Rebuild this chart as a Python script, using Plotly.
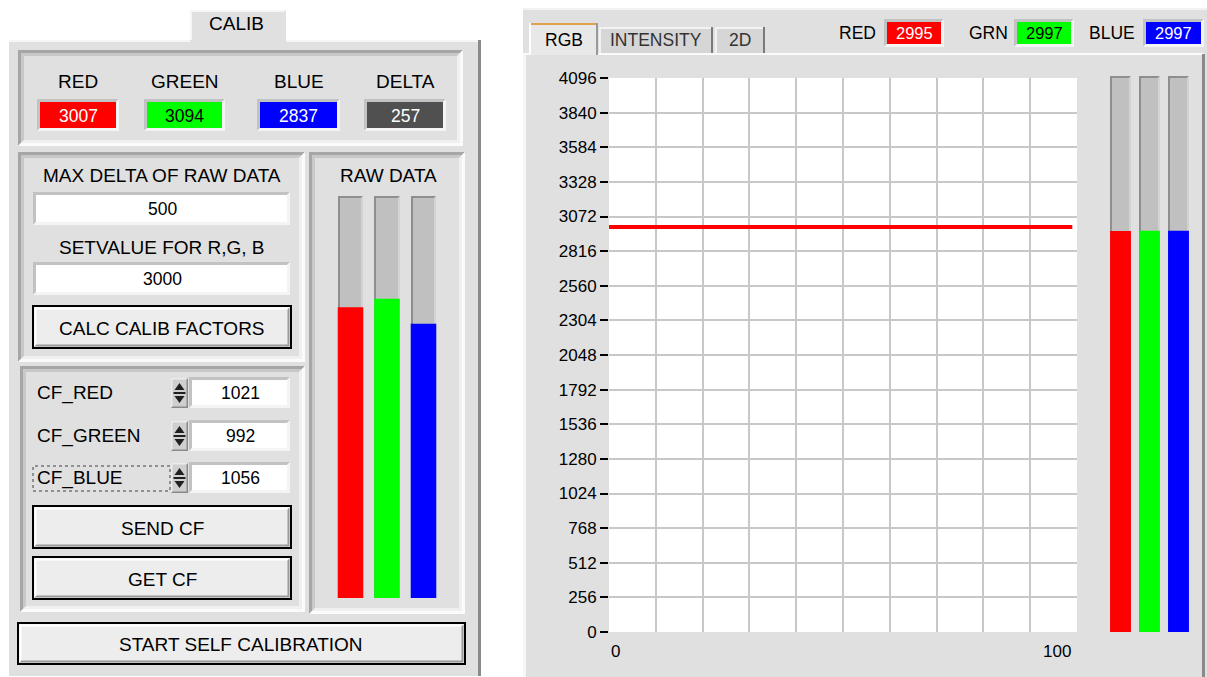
import plotly.graph_objects as go

# ---------------- data ----------------
calib_labels = ["RED", "GREEN", "BLUE", "DELTA"]
calib_values = [3007, 3094, 2837, 257]
max_delta_raw = 500
setvalue_rgb = 3000
cf_labels = ["CF_RED", "CF_GREEN", "CF_BLUE"]
cf_values = [1021, 992, 1056]
raw_channels = ["R", "G", "B"]
raw_values = [3007, 3094, 2837]
live_labels = ["RED", "GRN", "BLUE"]
live_values = [2995, 2997, 2997]
history_x = [0, 99]
history_red = [2995, 2995]
y_ticks = [0, 256, 512, 768, 1024, 1280, 1536, 1792, 2048, 2304, 2560, 2816,
           3072, 3328, 3584, 3840, 4096]
x_range = [0, 100]
x_tick_labels = ["0", "100"]
right_tabs = ["RGB", "INTENSITY", "2D"]
button_labels = ["CALC CALIB FACTORS", "SEND CF", "GET CF", "START SELF CALIBRATION"]
bar_colors = ["#ff0000", "#00ff00", "#0000ff"]

# ---------------- helpers ----------------
W, H = 1207, 677
FONT = "Liberation Sans, Arial, sans-serif"
FACE = "#e0e0e0"
LBL = 19
VAL = 17.5
shapes, annots = [], []


def px(x):
    return x / W


def py(y):
    return 1 - y / H


def rect(x0, y0, x1, y1, fill=None, line=None, lw=0, dash=None):
    ln = dict(color=line or "rgba(0,0,0,0)", width=lw)
    if dash:
        ln["dash"] = dash
    shapes.append(dict(type="rect", xref="paper", yref="paper", x0=px(x0), x1=px(x1),
                       y0=py(y1), y1=py(y0), fillcolor=fill or "rgba(0,0,0,0)",
                       line=ln, layer="below"))


def poly(pts, fill):
    p = "M " + " L ".join(f"{px(x):.5f},{py(y):.5f}" for x, y in pts) + " Z"
    shapes.append(dict(type="path", xref="paper", yref="paper", path=p,
                       fillcolor=fill, line=dict(width=0), layer="below"))


def bevel(x0, y0, x1, y1, tl, br, w):
    poly([(x0, y0), (x1, y0), (x1 - w, y0 + w), (x0 + w, y0 + w), (x0 + w, y1 - w), (x0, y1)], tl)
    poly([(x1, y1), (x0, y1), (x0 + w, y1 - w), (x1 - w, y1 - w), (x1 - w, y0 + w), (x1, y0)], br)


def text(x, y, s, size=LBL, color="#000000", xanchor="center"):
    annots.append(dict(xref="paper", yref="paper", x=px(x), y=py(y), text=s, showarrow=False,
                       xanchor=xanchor, yanchor="middle",
                       font=dict(family=FONT, size=size, color=color)))


def sunken_panel(x0, y0, x1, y1):
    rect(x0, y0, x1, y1, FACE)
    bevel(x0, y0, x1, y1, "#a6a6a6", "#fbfbfb", 3)
    bevel(x0 + 3, y0 + 3, x1 - 3, y1 - 3, "#c8c8c8", "#f0f0f0", 3)


def field(x0, y0, x1, y1, fill):
    bevel(x0, y0, x1, y1, "#c2c2c2", "#f4f4f4", 3)
    rect(x0 + 3, y0 + 3, x1 - 3, y1 - 3, fill)


def button(x0, y0, x1, y1, label, size=LBL):
    rect(x0, y0, x1, y1, "#ededed", "#000000", 2)
    bevel(x0 + 1.5, y0 + 1.5, x1 - 1.5, y1 - 1.5, "#ffffff", "#9a9a9a", 2)
    text((x0 + x1) / 2, (y0 + y1) / 2 + 1, label, size)


def spinner(x0, y0, x1, y1):
    rect(x0, y0, x1, y1, "#cfcfcf")
    bevel(x0, y0, x1, y1, "#ececec", "#8a8a8a", 1.5)
    cx = (x0 + x1) / 2
    ym = (y0 + y1) / 2
    poly([(cx - 5, ym - 3), (cx + 5, ym - 3), (cx, ym - 10)], "#202020")
    poly([(cx - 5, ym + 3), (cx + 5, ym + 3), (cx, ym + 10)], "#202020")
    rect(cx - 6, ym - 1, cx + 6, ym + 1, "#202020")


def bar_frame(x0, y0, x1, y1):
    rect(x0, y0, x1, y1, "#c0c0c0")
    bevel(x0, y0, x1, y1, "#8e8e8e", "#d2d2d2", 2)


# ---------------- left panel ----------------
rect(190, 10, 286, 42, FACE)
poly([(190, 10), (286, 10), (284, 12), (192, 12), (192, 42), (190, 42)], "#f6f6f6")
text(236, 23, "CALIB")
rect(9, 40, 481, 676, FACE)
rect(9, 40, 190, 42, "#f6f6f6")
rect(286, 40, 481, 42, "#f6f6f6")
rect(478, 40, 481, 676, "#8a8a8a")

# sub panel 1: current values
sunken_panel(18, 50, 463, 146)
value_boxes = [(40, 116), (147, 222), (260, 337), (367, 443)]
box_fills = ["#ff0000", "#00ff00", "#0000ff", "#505050"]
box_text = ["#ffffff", "#000000", "#ffffff", "#ffffff"]
for (bx0, bx1), lab, val, f, tc in zip(value_boxes, calib_labels, calib_values, box_fills, box_text):
    field(bx0 - 3, 99, bx1 + 3, 131, f)
    text((bx0 + bx1) / 2, 81, lab)
    text((bx0 + bx1) / 2, 116, str(val), VAL, tc)

# sub panel 2: settings
sunken_panel(18, 152, 305, 362)
text(162, 176, "MAX DELTA OF RAW DATA")
field(33, 192, 290, 225, "#ffffff")
text(162, 209, str(max_delta_raw), VAL)
text(162, 247, "SETVALUE FOR R,G, B")
field(33, 262, 290, 295, "#ffffff")
text(162, 279, str(setvalue_rgb), VAL)
button(33, 306, 291, 348, button_labels[0])

# sub panel 3: calibration factors
sunken_panel(20, 366, 305, 612)
cf_rows = [393, 436, 478]
for yy, lab, val in zip(cf_rows, cf_labels, cf_values):
    text(35, yy, lab, xanchor="left")
    spinner(171, yy - 15, 188, yy + 15)
    field(189, yy - 16, 290, yy + 15, "#ffffff")
    text(240, yy, str(val), VAL)
rect(33, 466, 170, 491, None, "#404040", 1, "dot")
button(33, 506, 291, 548, button_labels[1])
button(33, 557, 291, 599, button_labels[2])

# raw data panel
sunken_panel(309, 152, 465, 614)
text(389, 176, "RAW DATA")
raw_frames = [(338, 363), (374, 400), (411, 436)]
for fx0, fx1 in raw_frames:
    bar_frame(fx0, 196, fx1, 598)

button(18, 623, 465, 664, button_labels[3])

# ---------------- right panel ----------------
rect(523, 8, 1207, 677, FACE)
rect(523, 8, 1207, 10, "#f2f2f2")
rect(523, 54, 1204, 677, FACE)
rect(523, 53, 1204, 55, "#fafafa")
rect(523, 54, 526, 677, "#f6f6f6")
rect(1202, 54, 1205, 677, "#8a8a8a")

# tabs
tab_pos = [(529, 598, 23), (599, 713, 27), (715, 765, 27)]
for i, ((tx0, tx1, ty0), lab) in enumerate(zip(tab_pos, right_tabs)):
    if i == 0:
        rect(tx0, ty0, tx1, 55, "#e8e8e8")
        rect(tx0, ty0, tx1, ty0 + 2, "#e0a050")
        rect(tx0, ty0, tx0 + 2, 55, "#ffffff")
        rect(tx1 - 2, ty0, tx1, 55, "#9a9a9a")
    else:
        rect(tx0, ty0, tx1, 53, "#d6d6d6")
        rect(tx0, ty0, tx1, ty0 + 2, "#f2f2f2")
        rect(tx0, ty0, tx0 + 2, 53, "#f2f2f2")
        rect(tx1 - 2, ty0, tx1, 53, "#7a7a7a")
    text((tx0 + tx1) / 2, 40, lab, 17.5, "#000000" if i == 0 else "#333333")

# live value boxes
live_label_x = [857, 988, 1112]
live_boxes = [(887, 941), (1017, 1071), (1146, 1201)]
live_text = ["#ffffff", "#000000", "#ffffff"]
for lx, (bx0, bx1), lab, val, f, tc in zip(live_label_x, live_boxes, live_labels, live_values,
                                          bar_colors, live_text):
    text(lx, 33, lab, 17.5)
    field(bx0 - 3, 19, bx1 + 3, 47, f)
    text((bx0 + bx1) / 2, 33, str(val), 16.5, tc)

# chart plot area background
rect(609, 78, 1077, 632, "#ffffff")
for x_lab, xx, anc in zip(x_tick_labels, [609, 1073], ["left", "right"]):
    text(xx, 651, x_lab, 17, xanchor=anc)

# right bars frames
live_frames = [(1110, 1131), (1139, 1160), (1168, 1189)]
for fx0, fx1 in live_frames:
    bar_frame(fx0, 76, fx1, 632)

# ---------------- traces ----------------
fig = go.Figure()
fig.add_trace(go.Scatter(x=history_x, y=history_red, mode="lines",
                         line=dict(color="#ff0000", width=4), xaxis="x", yaxis="y",
                         hoverinfo="skip", showlegend=False))
fig.add_trace(go.Bar(x=[0, 1, 2], y=live_values, marker=dict(color=bar_colors, line=dict(width=0)),
                     width=0.72, xaxis="x2", yaxis="y2", showlegend=False, hoverinfo="skip"))
fig.add_trace(go.Bar(x=[0, 1, 2], y=raw_values, marker=dict(color=bar_colors, line=dict(width=0)),
                     width=0.70, xaxis="x3", yaxis="y3", showlegend=False, hoverinfo="skip"))

hidden = dict(visible=False, automargin=False, fixedrange=True, showgrid=False, zeroline=False)
fig.update_layout(
    template="none",
    width=W, height=H, autosize=False,
    margin=dict(l=0, r=0, t=0, b=0, pad=0, autoexpand=False),
    paper_bgcolor="#ffffff", plot_bgcolor="rgba(0,0,0,0)",
    showlegend=False, shapes=shapes, annotations=annots,
    xaxis=dict(domain=[px(609), px(1077)], range=x_range, dtick=10, tick0=0, showgrid=True,
               gridcolor="#c8c8c8", gridwidth=2, showticklabels=False, zeroline=False,
               showline=False, ticks="", anchor="y", fixedrange=True, automargin=False),
    yaxis=dict(domain=[py(632), py(78)], range=[0, 4096], tickmode="array", tickvals=y_ticks,
               ticktext=[str(v) for v in y_ticks], showgrid=True, gridcolor="#c8c8c8",
               gridwidth=2, zeroline=False, showline=False, ticks="outside", ticklen=8,
               tickwidth=1.5, tickcolor="#000000",
               tickfont=dict(family=FONT, size=17, color="#000000"), anchor="x",
               fixedrange=True, automargin=False),
    xaxis2=dict(domain=[px(1106), px(1193)], range=[-0.5, 2.5], anchor="y2", **hidden),
    yaxis2=dict(domain=[py(632), py(83.6)], range=[0, 4096], anchor="x2", **hidden),
    xaxis3=dict(domain=[px(332.25), px(441.75)], range=[-0.5, 2.5], anchor="y3", **hidden),
    yaxis3=dict(domain=[py(598), py(202)], range=[0, 4096], anchor="x3", **hidden),
    barmode="overlay",
)

page_fix = (
    "var d=document.documentElement,b=document.body,g=document.getElementById('{plot_id}');"
    "d.style.margin='0';d.style.padding='0';d.style.overflow='hidden';"
    "b.style.margin='0';b.style.padding='0';b.style.overflow='hidden';"
    "g.style.position='fixed';g.style.left='0px';g.style.top='0px';"
    "window.scrollTo(0,0);"
)

fig.write_html(
    "out.html",
    config={"displayModeBar": False, "responsive": False},
    post_script=page_fix,
)
